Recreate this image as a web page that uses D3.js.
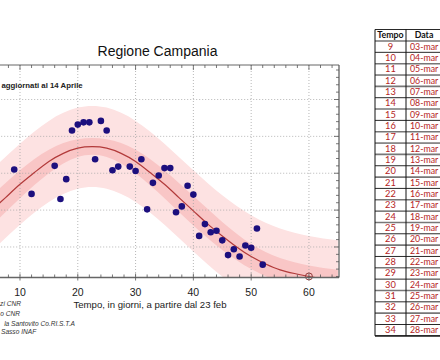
<!DOCTYPE html>
<html><head><meta charset="utf-8">
<script src="https://cdn.jsdelivr.net/npm/d3@7"></script>
<style>html,body{margin:0;padding:0;background:#fff;overflow:hidden}svg{display:block}</style>
</head><body>
<svg id="chart" width="440" height="360"></svg>
<script>
// ---- data ----
const title = "Regione Campania";
const note = "aggiornati  al 14 Aprile";
const xLabel = "Tempo, in giorni, a partire dal 23 feb";
const credits = ["zi CNR", "o CNR", "la Santovito Co.RI.S.T.A", "Sasso INAF"];

const obsDays  = [9, 12, 16, 17, 18, 19, 20, 21, 22, 23, 24, 25, 26, 27, 29, 30, 31, 32, 33, 34, 35, 36, 37, 38, 39, 40, 41, 42, 43, 44, 45, 46, 47, 48, 49, 50, 51, 52];
const obsValues = [155, 122, 160, 115, 142, 208, 216, 219, 219, 169, 221, 208, 154, 159, 159, 153, 169, 101, 137, 147, 157, 157, 97, 105, 133, 121, 65, 81, 70, 72, 59, 39, 47, 37, 52, 49, 75, 26];

const fitDays   = [0, 2.5, 5, 7.5, 10, 12.5, 15, 17.5, 20, 22.5, 25, 27.5, 30, 32.5, 35, 37.5, 40, 42.5, 45, 47.5, 50, 52.5, 55, 57.5, 60, 62.5, 65];
const fitValues = [65, 81, 99, 117, 135, 151, 166, 177, 184, 186, 184, 177, 166, 151, 135, 117, 99, 81, 65, 50, 37, 27, 19, 14, 10, 7, 4];

const bandDays  = [0, 5, 10, 15, 20, 25, 30, 35, 40, 45, 50, 55, 60, 65];
const innerHigh = [83, 119, 154, 182, 196, 196, 182, 154, 119, 84, 54, 35, 25, 19];
const innerLow  = [47, 79, 116, 150, 172, 172, 150, 116, 79, 46, 20, 3, -5, -11];
const outerHigh = [120, 154, 190, 221, 239, 239, 221, 190, 154, 120, 93, 75, 65, 59];
const outerLow  = [10, 44, 80, 111, 129, 129, 111, 80, 44, 10, -17, -35, -45, -51];

const markDay = 60;
const xTicks = [10, 20, 30, 40, 50, 60];
const yGrid = [50, 100, 150, 200, 250];

const tableHeader = ["Tempo", "Data"];
const tableTempo = [9, 10, 11, 12, 13, 14, 15, 16, 17, 18, 19, 20, 21, 22, 23, 24, 25, 26, 27, 28, 29, 30, 31, 32, 33, 34];
const tableDates = ["03-mar", "04-mar", "05-mar", "06-mar", "07-mar", "08-mar", "09-mar", "10-mar", "11-mar", "12-mar", "13-mar", "14-mar", "15-mar", "16-mar", "17-mar", "18-mar", "19-mar", "20-mar", "21-mar", "22-mar", "23-mar", "24-mar", "25-mar", "26-mar", "27-mar", "28-mar"];

// ---- layout ----
const svg = d3.select("#chart");
const plot = {left: -37.8, right: 339, top: 65, bottom: 277.5};
const x = d3.scaleLinear().domain([0, 65.2]).range([plot.left, plot.right]);
const y = d3.scaleLinear().domain([8.6, 296.8]).range([plot.bottom, plot.top]);
const font = "'Liberation Sans', Arial, sans-serif";

svg.append("defs").append("clipPath").attr("id", "clip")
  .append("rect").attr("x", plot.left).attr("y", plot.top)
  .attr("width", plot.right - plot.left).attr("height", plot.bottom - plot.top);

const g = svg.append("g").attr("clip-path", "url(#clip)");

const bandOuter = bandDays.map((d, i) => ({d, lo: outerLow[i], hi: outerHigh[i]}));
const bandInner = bandDays.map((d, i) => ({d, lo: innerLow[i], hi: innerHigh[i]}));
const area = d3.area().x(p => x(p.d)).y0(p => y(p.lo)).y1(p => y(p.hi)).curve(d3.curveNatural);

g.append("path").datum(bandOuter).attr("d", area).attr("fill", "#fde2e2");
g.append("path").datum(bandInner).attr("d", area).attr("fill", "#f9c6c6");

// grid
g.selectAll(".vg").data(xTicks).join("line")
  .attr("x1", d => x(d)).attr("x2", d => x(d)).attr("y1", plot.top).attr("y2", plot.bottom)
  .attr("stroke", "#a5a5a5").attr("stroke-width", 0.8).attr("stroke-dasharray", "1,2");
g.selectAll(".hg").data(yGrid).join("line")
  .attr("x1", plot.left).attr("x2", plot.right).attr("y1", d => y(d)).attr("y2", d => y(d))
  .attr("stroke", "#a5a5a5").attr("stroke-width", 0.8).attr("stroke-dasharray", "1,2");

// fit curve
const fit = fitDays.map((d, i) => ({d, v: fitValues[i]}));
g.append("path").datum(fit)
  .attr("d", d3.line().x(p => x(p.d)).y(p => y(p.v)).curve(d3.curveNatural))
  .attr("fill", "none").attr("stroke", "#b23a3a").attr("stroke-width", 1.2);

// observations
g.selectAll(".dot").data(obsDays.map((d, i) => ({d, v: obsValues[i]}))).join("circle")
  .attr("cx", p => x(p.d)).attr("cy", p => y(p.v)).attr("r", 3.3).attr("fill", "#1c0f7e");

// marker at day 60
const markVal = fitValues[fitDays.indexOf(markDay)];
svg.append("circle").attr("cx", x(markDay)).attr("cy", y(markVal)).attr("r", 3.5)
  .attr("fill", "none").attr("stroke", "#8a2a2a").attr("stroke-width", 0.9);

// frame
const frame = svg.append("g").attr("stroke", "#555").attr("fill", "none");
frame.append("line").attr("x1", plot.left).attr("x2", plot.right).attr("y1", plot.top).attr("y2", plot.top).attr("stroke-width", 0.9);
frame.append("line").attr("x1", plot.left).attr("x2", plot.right).attr("y1", plot.bottom).attr("y2", plot.bottom).attr("stroke", "#666").attr("stroke-width", 1.6);
frame.append("line").attr("x1", plot.right).attr("x2", plot.right).attr("y1", plot.top).attr("y2", plot.bottom).attr("stroke-width", 1.2);

// ticks (inward)
const minorX = d3.range(0, 66, 2);
frame.selectAll(".tt").data(minorX).join("line")
  .attr("x1", d => x(d)).attr("x2", d => x(d)).attr("y1", plot.top).attr("y2", d => plot.top + (d % 10 === 0 ? 5 : 3)).attr("stroke-width", 0.8);
frame.selectAll(".bt").data(minorX).join("line")
  .attr("x1", d => x(d)).attr("x2", d => x(d)).attr("y1", d => plot.bottom + (d % 10 === 0 ? 3 : 0)).attr("y2", d => plot.bottom - (d % 10 === 0 ? 4 : 3)).attr("stroke-width", 0.8);
const minorY = d3.range(10, 297, 10);
frame.selectAll(".rt").data(minorY).join("line")
  .attr("x1", plot.right).attr("x2", d => plot.right - (d % 50 === 0 ? 5 : 3)).attr("y1", d => y(d)).attr("y2", d => y(d)).attr("stroke-width", 0.8);

// x tick labels
svg.selectAll(".xl").data(xTicks).join("text")
  .attr("x", d => x(d)).attr("y", 296).attr("text-anchor", "middle")
  .attr("font-family", font).attr("font-size", 10.5).attr("fill", "#222").text(d => d);

svg.append("text").attr("x", 150).attr("y", 308).attr("text-anchor", "middle")
  .attr("font-family", font).attr("font-size", 9.6).attr("fill", "#222").text(xLabel);

svg.append("text").attr("x", 157.5).attr("y", 56).attr("text-anchor", "middle")
  .attr("font-family", font).attr("font-size", 14).attr("fill", "#111").text(title);

svg.append("text").attr("x", 1.5).attr("y", 87.5)
  .attr("font-family", font).attr("font-size", 7.8).attr("font-weight", "bold").attr("fill", "#222").text(note);

// credits
const creditPos = [{x: 21, y: 306, a: "end"}, {x: 20, y: 315.5, a: "end"}, {x: 75, y: 326, a: "end"}, {x: 1, y: 334, a: "start"}];
svg.selectAll(".cr").data(credits).join("text")
  .attr("x", (d, i) => creditPos[i].x).attr("y", (d, i) => creditPos[i].y).attr("text-anchor", (d, i) => creditPos[i].a)
  .attr("font-family", font).attr("font-size", 6.6).attr("font-style", "italic").attr("fill", "#333").text(d => d);

// table
const tFont = "Lato, 'Open Sans', sans-serif";
const tb = {left: 375, mid: 406, right: 470, top: 29.5, headerH: 11.5, rowH: 11.34};
const tg = svg.append("g");
const rowsBottom = tb.top + tb.headerH + tableTempo.length * tb.rowH;
const seps = d3.range(0, tableTempo.length + 1);
tg.selectAll(".sep").data(seps).join("line")
  .attr("x1", tb.left).attr("x2", tb.right)
  .attr("y1", i => tb.top + tb.headerH + i * tb.rowH).attr("y2", i => tb.top + tb.headerH + i * tb.rowH)
  .attr("stroke", i => (i % 2 === 0 ? "#777" : "#111")).attr("stroke-width", i => (i % 2 === 0 ? 1.6 : 0.9));
tg.append("line").attr("x1", tb.left).attr("x2", tb.right).attr("y1", tb.top).attr("y2", tb.top).attr("stroke", "#111").attr("stroke-width", 0.9);
tg.append("line").attr("x1", tb.left).attr("x2", tb.right).attr("y1", rowsBottom).attr("y2", rowsBottom).attr("stroke", "#111").attr("stroke-width", 1.2);
[tb.left, tb.mid].forEach(xx => tg.append("line").attr("x1", xx).attr("x2", xx).attr("y1", tb.top).attr("y2", rowsBottom).attr("stroke", "#111").attr("stroke-width", 1));

tg.append("text").attr("x", (tb.left + tb.mid) / 2).attr("y", tb.top + 8.8).attr("text-anchor", "middle")
  .attr("font-family", tFont).attr("font-size", 8.8).attr("font-weight", "bold").attr("fill", "#111").text(tableHeader[0]);
tg.append("text").attr("x", 424).attr("y", tb.top + 8.8).attr("text-anchor", "middle")
  .attr("font-family", tFont).attr("font-size", 8.8).attr("font-weight", "bold").attr("fill", "#111").text(tableHeader[1]);

tg.selectAll(".tc").data(tableTempo).join("text")
  .attr("x", (tb.left + tb.mid) / 2).attr("y", (d, i) => tb.top + tb.headerH + i * tb.rowH + 8.6).attr("text-anchor", "middle")
  .attr("font-family", tFont).attr("font-size", 9.3).attr("fill", "#b52424").text(d => d);
tg.selectAll(".dc").data(tableDates).join("text")
  .attr("x", 410).attr("y", (d, i) => tb.top + tb.headerH + i * tb.rowH + 8.6)
  .attr("font-family", tFont).attr("font-size", 8.8).attr("fill", "#b52424").text(d => d);
</script>
</body></html>
